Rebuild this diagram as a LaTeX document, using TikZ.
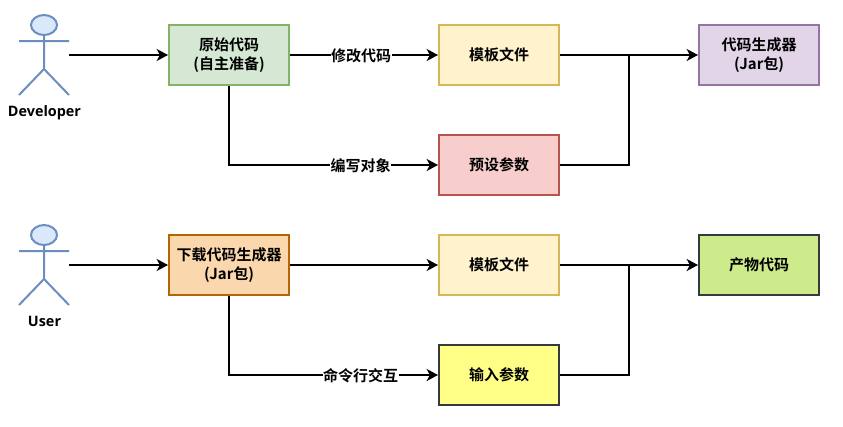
\documentclass[tikz,border=0pt]{standalone}
\usepackage{fontspec}
\setmainfont{Noto Sans CJK SC}[BoldFont={Noto Sans CJK SC Bold}]
\newfontfamily\latinbold{Open Sans}[BoldFont={Open Sans Bold}]
\usetikzlibrary{arrows.meta}
\definecolor{greenfill}{HTML}{D5E8D4}\definecolor{greenline}{HTML}{82B366}
\definecolor{yelfill}{HTML}{FFF2CC}\definecolor{yelline}{HTML}{D6B656}
\definecolor{redfill}{HTML}{F8CECC}\definecolor{redline}{HTML}{B85450}
\definecolor{purfill}{HTML}{E1D5E7}\definecolor{purline}{HTML}{9673A6}
\definecolor{orafill}{HTML}{FAD7AC}\definecolor{oraline}{HTML}{B46504}
\definecolor{limefill}{HTML}{CDEB8B}\definecolor{darkline}{HTML}{36393D}
\definecolor{brightyel}{HTML}{FFFF88}
\definecolor{bluefill}{HTML}{DAE8FC}\definecolor{blueline}{HTML}{6C8EBF}
\tikzset{
  x=0.75pt,y=-0.75pt,
  box/.style={draw=#1,line width=1.5pt,minimum width=90pt,minimum height=45pt,
    inner sep=0pt,align=center,font=\bfseries\fontsize{11.25}{14.25}\selectfont,anchor=center,
    execute at begin node={\vspace*{1.5pt}}},
  link/.style={line width=1.6pt,draw=black},
  linkarrow/.style={link,-{Stealth[length=8.5pt,width=9pt,inset=2.4pt]}},
  edgetext/.style={fill=white,inner sep=0.4pt,yshift=-0.75pt,font=\bfseries\fontsize{11.25}{13}\selectfont},
  actorline/.style={draw=blueline,line width=1.5pt,fill=bluefill},
  actorname/.style={font=\latinbold\bfseries\fontsize{10.8}{13}\selectfont,inner sep=0pt,anchor=base}
}
\begin{document}
\begin{tikzpicture}
\useasboundingbox (0,0) rectangle (843,426);

% stick figures
\foreach \dy/\txt in {0/Developer,210/User}{
  \begin{scope}[yshift=-\dy*0.75pt]
    \draw[actorline] (44,25) ellipse[x radius=13,y radius=10];
    \draw[actorline,fill=none] (44,35) -- (44,69) (19,41) -- (69,41)
      (19,95) -- (44,69) -- (69,95);
    \node[actorname] at (44.5,116) {\txt};
  \end{scope}
}
\coordinate (devhand) at (69,55);
\coordinate (usrhand) at (69,265);

% upper row
\node[box=greenline,fill=greenfill] (src) at (229,55) {原始代码\\(自主准备)};
\node[box=yelline,fill=yelfill] (tpl) at (499,55) {模板文件};
\node[box=redline,fill=redfill] (preset) at (499,165) {预设参数};
\node[box=purline,fill=purfill] (gen) at (759,55) {代码生成器\\(Jar包)};

% lower row
\node[box=oraline,fill=orafill] (dl) at (229,265) {下载代码生成器\\(Jar包)};
\node[box=yelline,fill=yelfill] (tplb) at (499,265) {模板文件};
\node[box=darkline,fill=brightyel] (input) at (499,375) {输入参数};
\node[box=darkline,fill=limefill] (out) at (759,265) {产物代码};

% connectors
\draw[linkarrow] (devhand) -- (src.west);
\draw[linkarrow] (src.east) -- node[edgetext,pos=0.48]{修改代码} (tpl.west);
\draw[linkarrow] (src.south) |- node[edgetext,pos=0.815]{编写对象} (preset.west);
\draw[linkarrow] (tpl.east) -- (gen.west);
\draw[link] (preset.east) -| (629,55);

\draw[linkarrow] (usrhand) -- (dl.west);
\draw[linkarrow] (dl.east) -- (tplb.west);
\draw[linkarrow] (dl.south) |- node[edgetext,pos=0.815]{命令行交互} (input.west);
\draw[linkarrow] (tplb.east) -- (out.west);
\draw[link] (input.east) -| (629,265);
\end{tikzpicture}
\end{document}
